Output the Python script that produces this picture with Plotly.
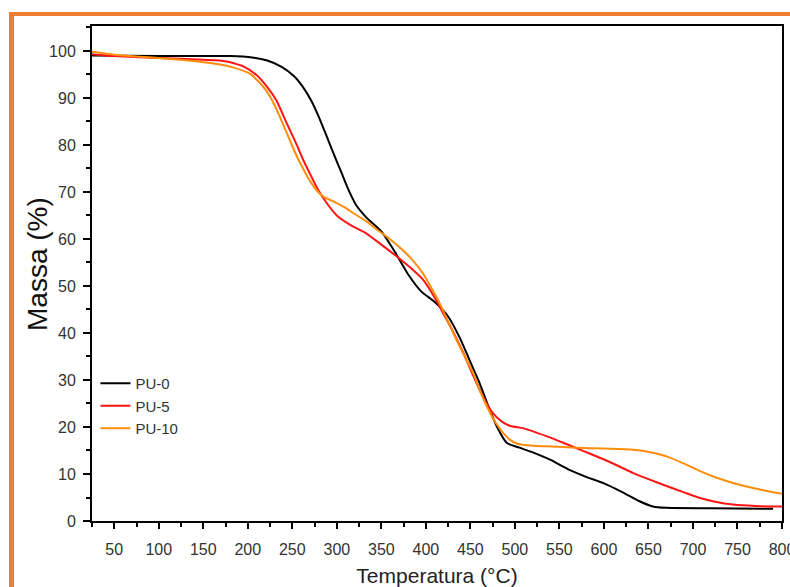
import plotly.graph_objects as go

# ---- data ----
t_pu0 = [25, 100, 180, 205, 221, 238, 252, 262, 271, 279, 287, 296, 305, 313, 322, 333, 350,
         365, 380, 395, 410, 425, 438, 450, 460, 470, 480, 491, 505, 520, 540, 560, 580, 600,
         620, 640, 655, 670, 720, 790]
m_pu0 = [99.0, 98.9, 98.9, 98.6, 98.0, 96.6, 94.6, 92.3, 89.5, 86.3, 82.6, 78.3, 74.2, 70.5,
         67.1, 64.6, 61.6, 57.3, 52.5, 48.8, 46.6, 43.5, 39.0, 33.8, 29.5, 24.5, 20.0, 16.6,
         15.6, 14.6, 13.0, 11.0, 9.4, 8.0, 6.2, 4.2, 3.1, 2.8, 2.7, 2.6]

t_pu5 = [25, 50, 100, 150, 175, 195, 210, 221, 232, 244, 255, 262, 270, 278, 288, 300, 315,
         333, 350, 367, 385, 397, 410, 420, 430, 442, 453, 464, 475, 485, 495, 510, 536, 555,
         573, 596, 615, 633, 650, 671, 690, 708, 725, 745, 770, 800]
m_pu5 = [99.3, 98.9, 98.5, 98.1, 97.8, 96.7, 94.8, 92.5, 89.5, 84.5, 80.0, 76.9, 73.8, 70.8,
         67.8, 65.0, 63.0, 61.2, 58.8, 56.3, 53.5, 51.3, 47.5, 44.0, 40.5, 35.8, 31.0, 26.5,
         23.0, 21.2, 20.2, 19.7, 18.0, 16.6, 15.2, 13.4, 11.8, 10.2, 8.9, 7.4, 6.1, 4.9, 4.1,
         3.5, 3.2, 3.1]

t_pu10 = [25, 50, 75, 100, 124, 146, 169, 185, 202, 212, 221, 230, 236, 245, 255, 262, 270,
          278, 285, 296, 308, 320, 333, 345, 360, 373, 386, 397, 405, 415, 424, 435, 445, 453,
          461, 469, 478, 487, 495, 502, 520, 536, 570, 600, 630, 645, 660, 671, 690, 708, 725,
          745, 770, 800]
m_pu10 = [99.8, 99.2, 98.8, 98.5, 98.1, 97.7, 97.1, 96.4, 95.2, 93.5, 91.5, 88.5, 86.0, 82.0,
          77.6, 75.0, 72.3, 70.2, 69.0, 68.0, 66.8, 65.3, 63.8, 62.0, 59.9, 57.8, 55.3, 52.6,
          50.0, 46.5, 42.8, 38.3, 34.5, 31.5, 27.6, 24.2, 21.0, 18.7, 17.2, 16.5, 16.0, 15.9,
          15.6, 15.4, 15.2, 14.9, 14.3, 13.7, 12.2, 10.6, 9.3, 8.1, 6.9, 5.8]

series_names = ["PU-0", "PU-5", "PU-10"]
series_colors = ["#000000", "#FF1414", "#FF8C0A"]

x_ticks = list(range(50, 801, 50))
y_ticks = list(range(0, 101, 10))

FONT = "Arial, Liberation Sans, sans-serif"

fig = go.Figure()
for name, tx, my, col in zip(series_names, [t_pu0, t_pu5, t_pu10],
                             [m_pu0, m_pu5, m_pu10], series_colors):
    fig.add_trace(go.Scatter(x=tx, y=my, mode="lines", name=name,
                             line=dict(color=col, width=2, shape="spline", smoothing=0.6)))

# frame geometry in paper coords
L, R, T, B = 92, 8, 26, 66
W, H = 790, 587
pw, ph = W - L - R, H - T - B


def px(x):
    return (x - L) / pw


def py(y):
    return (H - B - y) / ph


frame_col = "#ED7D31"
fig.add_shape(type="line", xref="paper", yref="paper", x0=px(11.5), x1=px(11.5),
              y0=py(12), y1=py(595), line=dict(color=frame_col, width=5), layer="above")
fig.add_shape(type="line", xref="paper", yref="paper", x0=px(9), x1=px(800),
              y0=py(14), y1=py(14), line=dict(color=frame_col, width=4), layer="above")

# y-axis title placed precisely
fig.add_annotation(text="Massa (%)", xref="paper", yref="paper", x=px(37), y=py(264),
                   xanchor="center", yanchor="middle", textangle=-90, showarrow=False,
                   font=dict(size=28, family=FONT, color="#111111"))

fig.update_layout(
    width=W, height=H,
    margin=dict(l=L, r=R, t=T, b=B, autoexpand=False),
    paper_bgcolor="white", plot_bgcolor="white",
    font=dict(family=FONT, color="#333333", size=16),
    showlegend=True,
    legend=dict(x=0.005, y=py(367), xanchor="left", yanchor="top",
                font=dict(size=15, color="#333333", family=FONT),
                bgcolor="rgba(0,0,0,0)", borderwidth=0, tracegroupgap=0),
)

fig.update_xaxes(
    range=[25, 800], tickvals=x_ticks, ticktext=[str(v) for v in x_ticks],
    ticks="outside", ticklen=6, tickwidth=1.5, tickcolor="#000",
    showline=True, linecolor="#000", linewidth=2, mirror=True,
    showgrid=False, zeroline=False, automargin=False,
    tickfont=dict(size=16, family=FONT, color="#333333"),
    ticklabelstandoff=7, ticklabeloverflow="allow",
    minor=dict(dtick=25, tick0=25, ticks="outside", ticklen=4, tickwidth=1.5, tickcolor="#000",
               showgrid=False),
    title=dict(text="Temperatura (°C)", font=dict(size=21, family=FONT, color="#222222"),
               standoff=17),
)
fig.update_yaxes(
    range=[0, 105.3], tickvals=y_ticks, ticktext=[str(v) for v in y_ticks],
    ticks="outside", ticklen=7, tickwidth=1.5, tickcolor="#000",
    showline=True, linecolor="#000", linewidth=2, mirror=True,
    showgrid=False, zeroline=False, automargin=False,
    tickfont=dict(size=16, family=FONT, color="#333333"),
    ticklabelstandoff=4,
    minor=dict(dtick=5, tick0=0, ticks="outside", ticklen=4, tickwidth=1.5, tickcolor="#000",
               showgrid=False),
)

fig.write_html("out.html")
